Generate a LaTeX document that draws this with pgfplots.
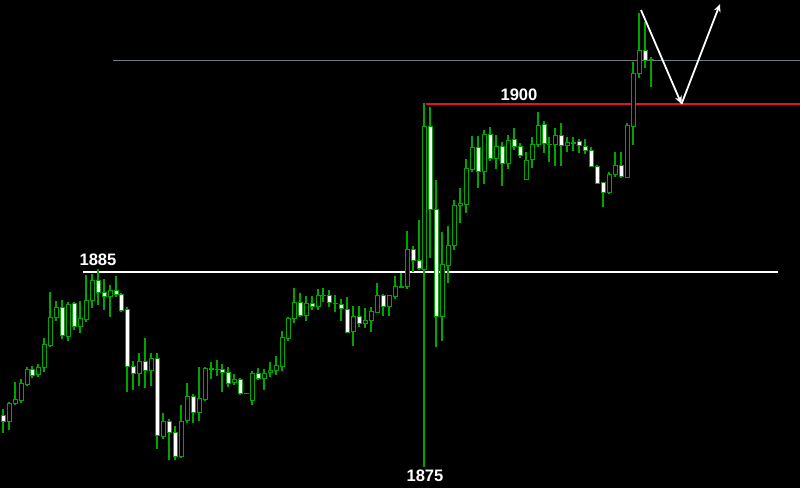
\documentclass[border=0pt]{standalone}
\usepackage{pgfplots}
\usepackage{pgfplotstable}
\pgfplotsset{compat=1.18}
\usetikzlibrary{arrows.meta}
\usepackage{fontspec}
\setmainfont{Liberation Sans}
\definecolor{grn}{RGB}{0,165,0}
\definecolor{slate}{RGB}{110,120,135}
\definecolor{redl}{RGB}{230,20,30}

% candle data in chart pixel units (y grows downward)
\pgfplotstableread{
x o h l c
3 415.7 409 433 421.7
32.3 369 366 378.3 375.3
62 307.3 300 339 335.7
74 303.3 302.3 330 326
98 280.7 269.3 304.7 292
103.7 292.7 279.3 310 296.7
115.7 290.7 276 297 294.3
121.3 294 292.7 311.7 310.7
127.3 309.3 306.7 391.7 366
133.3 366 360.7 390 373.3
145.3 361.3 338.3 388.3 370.7
157.3 358.7 353.3 449.3 435.7
169 421.7 419.3 460 432.3
175 432 426 460 456.7
193 396 394 423.3 412
222.3 369 364 392.3 372
228.3 372.3 367.3 386.7 383.3
240 379.3 378.3 395 393.3
258 373.3 368.3 380 378.7
300 302.7 293.3 316.7 315.7
311.7 303.3 296 310 306
329.3 295 290 306.7 302.7
341.3 304 299.3 321 308.3
347.3 309 297.3 333.3 332.3
359.3 316.7 306 326.7 323.3
383 295.7 294 315.7 306.7
413 249 246 271.7 260.7
418.7 260.7 220 270 268.3
430.3 126 106.7 258.3 209.3
436.3 209.3 180 346.7 316.7
478 147.3 135.7 187.7 171
490 134 127.3 160.7 158.3
502 146.7 141.7 185.7 163.3
514 139 127.7 150 146.7
520 146.7 143.3 158.3 155.7
543.7 124 120.7 153.3 143.3
561.3 135.7 122.7 165.7 145
579.3 141.3 139.3 152.7 145.7
585 146.7 139.3 154 150
591 150.7 146.7 166.7 166
597 166 165 184 183.3
603 182.7 181.7 207.3 192.7
621 165 152.3 178.3 176.7
644.7 50 21.7 68.3 60
}\bear

\pgfplotstableread{
x o h l c
9 421.7 401.7 430 403.3
15 403.3 381.7 405 399.3
21 400 379.3 403.3 383.3
26.5 384 366.7 386 369.3
38.3 374.7 364 377.3 367.3
44.3 367.7 338.3 371.7 344.7
50.3 345 292.3 347.3 317.7
56 317.7 301 320.7 307.3
68 336.7 302.3 340.7 304
80 326.7 300.7 333.3 318.3
86 319.3 275 321.7 300
92 300.7 274 307.7 280.7
109.5 296.7 285 316.7 290
139.3 373.3 352.7 385.7 361.3
151.3 370 353.3 386 358.3
163 436 412.7 439.3 421.7
181 456.7 405 458.3 421
187 420 383.3 422.7 396
199 412.3 367.3 420.7 398.3
205 399 366.7 400.7 368.3
211 368.5 362 378.5 368.5
216.7 369 360 375.7 369
234 382.7 374 385 379
246 393.3 393.3 393.3 393.3
252 400.7 370.7 405 373.3
264 378.3 369.3 390 373.3
270 372.7 361.7 376.7 370
276 370.7 356 375 365.7
282 366.7 330.7 370.7 337.3
288 338.3 316.7 341 318.3
294 318.3 288 322.7 302.7
306 315.3 296 320.7 303.3
317.7 306.7 289.3 310 295
323.3 295 288.3 301.7 295
335.3 303.3 295 311.7 303.3
353.3 331.7 306 345.7 316.7
365 323.3 308.3 328.3 320
371 320 307.3 331.7 311.7
377 312.3 282.7 313.3 295.7
389 306.7 295 315.7 295.7
395 296 276 299 286
401 286.7 273.3 288.3 286.7
407 286.7 231 289.3 249.3
424.3 269.3 103.3 467 126.7
442.3 316.7 231.7 341 264.3
448.3 265.7 225.7 283.3 245
454.3 245.7 200 250 205.7
460 205 188.3 223.3 203.5
466 204.3 159 213.3 168.3
472 169 135.7 171.7 147.3
484 171.7 130 184 134
496 158.3 135 169 146.7
508 163.3 135 169 140
526 179.3 152.3 180 160
531.7 159.3 136.7 168.3 144.3
537.7 144.3 111.7 146.7 125
549.3 144 136.7 161.7 144
555.3 144.3 127.7 165.7 135.7
567.3 145.3 137.3 151.7 142
573.3 142.7 136.7 151 142.7
609 192.7 171.7 194 174.3
615 174.3 151.7 176.7 165.7
627 177.7 123.3 178.3 125.7
632.7 126 62.3 145 73.3
638.7 73.3 12.7 78.3 50
650.7 59.3 57.3 86.7 59.3
}\bull

\pgfplotsset{
  wick/.style={draw=none, mark=none, forget plot,
    error bars/.cd, y dir=both, y explicit, error mark=none,
    error bar style={draw=grn, line width=0.55pt}},
  bodyout/.style={draw=none, mark=none, forget plot,
    error bars/.cd, y dir=both, y explicit, error mark=none,
    error bar style={draw=grn, line width=2.5pt}},
  bodyin/.style={draw=none, mark=none, forget plot,
    error bars/.cd, y dir=both, y explicit, error mark=none,
    error bar style={draw=#1, line width=1.5pt}},
}

\begin{document}
\begin{tikzpicture}
\begin{axis}[
  scale only axis, width=400pt, height=244pt,
  at={(0,0)}, anchor=south west,
  xmin=0, xmax=800, ymin=0, ymax=488, y dir=reverse,
  axis line style={draw=none}, ticks=none,
  axis background/.style={fill=black},
  clip=false,
]
% horizontal levels
\addplot[slate, line width=0.5pt, forget plot] coordinates {(113,60.5) (800,60.5)};
\addplot[white, line width=1pt, forget plot] coordinates {(83,271.5) (778,271.5)};
\addplot[redl, line width=1pt, forget plot] coordinates {(426,103.5) (800,103.5)};

% wicks
\addplot[wick] table[x expr={round(\thisrow{x})}, y expr={(\thisrow{h}+\thisrow{l})/2}, y error expr={abs(\thisrow{l}-\thisrow{h})/2}] {\bear};
\addplot[wick] table[x expr={round(\thisrow{x})}, y expr={(\thisrow{h}+\thisrow{l})/2}, y error expr={abs(\thisrow{l}-\thisrow{h})/2}] {\bull};
% bodies outline
\addplot[bodyout] table[x expr={round(\thisrow{x})}, y expr={(\thisrow{o}+\thisrow{c})/2}, y error expr={abs(\thisrow{o}-\thisrow{c})/2+0.5}] {\bear};
\addplot[bodyout] table[x expr={round(\thisrow{x})}, y expr={(\thisrow{o}+\thisrow{c})/2}, y error expr={abs(\thisrow{o}-\thisrow{c})/2+0.5}] {\bull};
% bodies fill
\addplot[bodyin=white] table[x expr={round(\thisrow{x})}, y expr={(\thisrow{o}+\thisrow{c})/2}, y error expr={max(abs(\thisrow{o}-\thisrow{c})/2-0.5,0)}] {\bear};
\addplot[bodyin=black] table[x expr={round(\thisrow{x})}, y expr={(\thisrow{o}+\thisrow{c})/2}, y error expr={max(abs(\thisrow{o}-\thisrow{c})/2-0.5,0)}] {\bull};

% arrows
\addplot[white, line width=0.9pt, -{Stealth[length=4pt,width=3.5pt]}, forget plot] coordinates {(641,10) (681.5,104)};
\addplot[white, line width=0.9pt, -{Stealth[length=4pt,width=3.5pt]}, forget plot] coordinates {(681.5,104) (720,4)};

% labels
\node[text=white, font=\fontsize{8.3}{10}\selectfont\bfseries] at (axis cs:98,259.5) {1885};
\node[text=white, font=\fontsize{8.3}{10}\selectfont\bfseries] at (axis cs:519,95) {1900};
\node[text=white, font=\fontsize{8.3}{10}\selectfont\bfseries] at (axis cs:425,476) {1875};
\end{axis}
\pgfresetboundingbox
\path[use as bounding box] (0,0) rectangle (400pt,244pt);
\end{tikzpicture}
\end{document}
